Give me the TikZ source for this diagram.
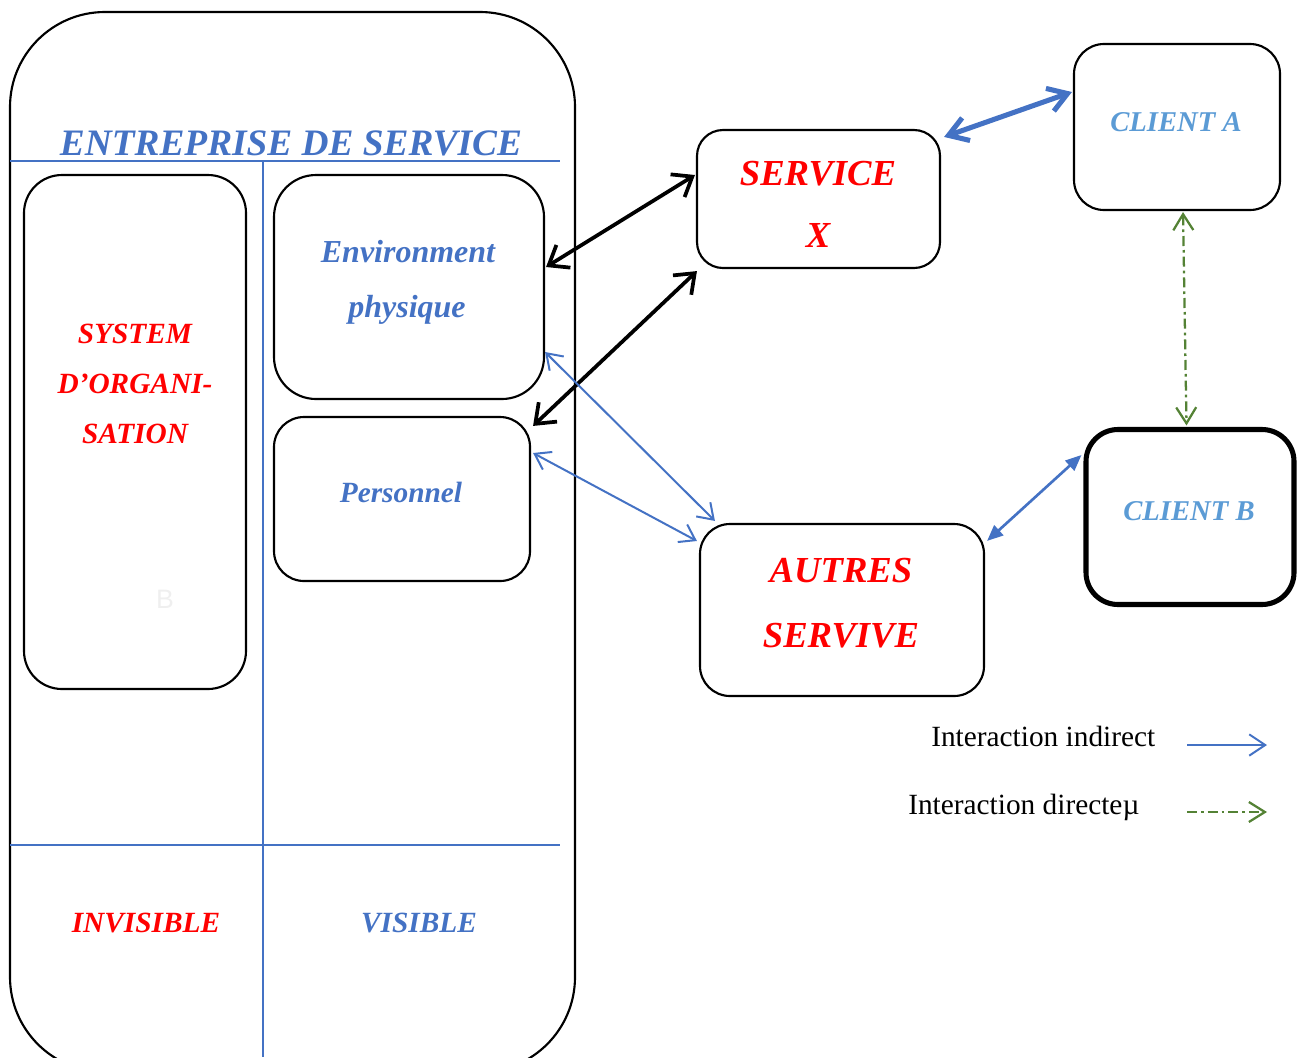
\documentclass[tikz,border=0pt]{standalone}
\usepackage{fontspec}
\setmainfont{Liberation Serif}
\newfontfamily\sansfam{Liberation Sans}
\usetikzlibrary{arrows.meta,calc}
\definecolor{accblue}{HTML}{4472C4}
\definecolor{lblue}{HTML}{5B9BD5}
\definecolor{dgreen}{HTML}{548235}
\definecolor{faint}{HTML}{EFEFEF}
\definecolor{hred}{HTML}{FF0000}
\begin{document}
\begin{tikzpicture}[x=0.75pt,y=-0.75pt,
  box/.style={draw,line width=1.6pt,inner sep=0pt},
  rc/.style={rounded corners=#1*0.75pt},
  sz/.style 2 args={minimum width=#1*0.75pt,minimum height=#2*0.75pt},
  lbl/.style={inner sep=0pt,anchor=base,font=\bfseries\itshape\fontsize{#1}{#1}\selectfont},
  divider/.style={accblue,line width=1.1pt},
  blkarrow/.style={line width=2.8pt,
    {Straight Barb[length=13pt,width=20pt]}-{Straight Barb[length=13pt,width=20pt]}},
  thickblue/.style={accblue,line width=3.8pt,
    {Straight Barb[length=14pt,width=18pt]}-{Straight Barb[length=14pt,width=18pt]}},
  thinblue/.style={accblue,line width=1.5pt,
    {Straight Barb[length=11pt,width=15pt]}-{Straight Barb[length=11pt,width=15pt]}},
  solidblue/.style={accblue,line width=2pt,
    {Triangle[length=12pt,width=10pt]}-{Triangle[length=12pt,width=10pt]}},
  dashdot/.style={dgreen,line width=1.7pt,dash pattern=on 7.5pt off 3pt on 2pt off 3pt},
  direct/.style={dashdot,
    {Straight Barb[length=12pt,width=15pt]}-{Straight Barb[length=12pt,width=15pt]}},
]
\useasboundingbox (0,0) rectangle (1298,1057);
\clip (0,0) rectangle (1298,1057);

% service company container and its dividers
\node[box,rc=95,sz={565}{1060}] (ent) at (292.5,542) {};
\draw[divider] (10,161) -- (560,161);
\draw[divider] (10,845) -- (560,845);
\draw[divider] (263,161) -- (263,1057);
\node[lbl=28,accblue] (title) at (291,155) {ENTREPRISE DE SERVICE};

% boxes
\node[box,rc=38,sz={222}{514}] (sys) at (135,432) {};
\node[box,rc=42,sz={270}{224}] (env) at (409,287) {};
\node[box,rc=30,sz={256}{164}] (pers) at (402,499) {};
\node[box,rc=26,sz={243}{138}] (svc) at (818.5,199) {};
\node[box,rc=30,sz={206}{166}] (cla) at (1177,127) {};
\node[box,rc=32,sz={208}{175},line width=3.8pt] (clb) at (1190,517) {};
\node[box,rc=30,sz={284}{172}] (aut) at (842,610) {};

% labels
\node[lbl=22,hred] (sys1) at (135,343) {SYSTEM};
\node[lbl=22,hred] (sys2) at (135,393) {D’ORGANI-};
\node[lbl=22,hred] (sys3) at (135,443) {SATION};
\node[inner sep=0pt,anchor=base,faint,font=\sansfam\fontsize{20}{20}\selectfont] (ghost) at (165,608) {B};
\node[lbl=24,accblue] (env1) at (408,262) {Environment};
\node[lbl=24,accblue] (env2) at (407,317) {physique};
\node[lbl=22,accblue] (pers1) at (401,502) {Personnel};
\node[lbl=27.5,hred] (svc1) at (818,185) {SERVICE};
\node[lbl=27.5,hred] (svc2) at (818,247) {X};
\node[lbl=21.5,lblue] (cla1) at (1176,131) {CLIENT A};
\node[lbl=21.5,lblue] (clb1) at (1189,520) {CLIENT B};
\node[lbl=27.5,hred] (aut1) at (841,582) {AUTRES};
\node[lbl=27.5,hred] (aut2) at (841,647) {SERVIVE};
\node[lbl=22,hred] (inv) at (146,932) {INVISIBLE};
\node[lbl=22,accblue] (vis) at (419,932) {VISIBLE};

% connectors
\draw[blkarrow] ($(env.east)+(1,-20)$) -- ($(svc.west)+(-1,-24)$);
\draw[blkarrow] ($(pers.north east)+(2,10)$) -- ($(svc.south west)+(1,2)$);
\draw[thickblue] ($(svc.north east)+(3,8)$) -- ($(cla.west)+(-1,-35)$);
\draw[thinblue] ($(env.east)+(0,65)$) -- ($(aut.north west)+(16,-2)$);
\draw[thinblue] ($(pers.east)+(2,-46)$) -- ($(aut.west)+(-2,-69)$);
\draw[solidblue] ($(aut.north east)+(2,18)$) -- ($(clb.west)+(-2,-62)$);
\draw[direct] ($(cla.south)+(6,1)$) -- ($(clb.north)+(-3.5,-1.5)$);

% legend
\node[inner sep=0pt,anchor=base west,font=\fontsize{22}{22}\selectfont] (leg1) at (931,746) {Interaction indirect};
\node[inner sep=0pt,anchor=base west,font=\fontsize{22}{22}\selectfont] (leg2) at (908,814) {Interaction directeµ};
\coordinate (l1a) at (1187,745);
\coordinate (l1b) at (1267,745);
\coordinate (l2a) at (1187,812);
\coordinate (l2b) at (1267,812);
\draw[accblue,line width=1.5pt,-{Straight Barb[length=12pt,width=16pt]}] (l1a) -- (l1b);
\draw[dashdot,-{Straight Barb[length=12pt,width=15pt]}] (l2a) -- (l2b);
\end{tikzpicture}
\end{document}
